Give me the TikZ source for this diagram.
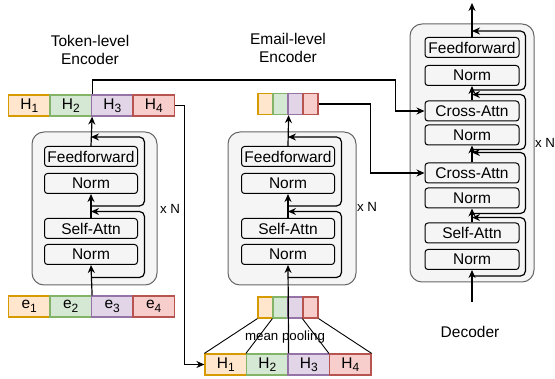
\documentclass[tikz,border=0pt]{standalone}
\usepackage{fontspec}
\setmainfont{Liberation Sans}
\usetikzlibrary{arrows.meta}

\definecolor{orfill}{HTML}{FFE6CC}\definecolor{ordraw}{HTML}{D79B00}
\definecolor{grfill}{HTML}{D5E8D4}\definecolor{grdraw}{HTML}{82B366}
\definecolor{pufill}{HTML}{E1D5E7}\definecolor{pudraw}{HTML}{9673A6}
\definecolor{rdfill}{HTML}{F8CECC}\definecolor{rddraw}{HTML}{B85450}
\definecolor{stackfill}{HTML}{F5F5F5}\definecolor{stackdraw}{HTML}{666666}

\newcommand{\lowidx}[1]{\raisebox{-3.5pt}{\fontsize{12}{12}\selectfont #1}}

\begin{document}
\begin{tikzpicture}[
    x=1pt,y=-1pt,
    big/.style={font=\fontsize{15.5}{18}\selectfont},
    small/.style={font=\fontsize{13.3}{16}\selectfont},
    stack/.style={draw=stackdraw,fill=stackfill,line width=1pt,rounded corners=12pt},
    block/.style={draw,line width=1pt,rounded corners=3pt,minimum width=93,minimum height=20,inner sep=0pt,big},
    cell/.style={draw=#1draw,fill=#1fill,line width=1.2pt,minimum height=21,inner sep=0pt,big},
    wide/.style={minimum width=41.5},
    thin/.style={minimum width=15},
    conn/.style={-{Stealth[length=8pt,width=7pt]},line width=1.2pt},
    res/.style={conn,rounded corners=5pt},
    pool/.style={line width=0.9pt}
  ]
  \useasboundingbox (0,0) rectangle (555,379);

  % token-level encoder
  \node[stack,minimum width=125,minimum height=153] (tstack) at (94.5,208.5) {};
  \node[block] (tff) at (91,156.5) {Feedforward};
  \node[block] (tn1) at (91,183.5) {Norm};
  \node[block] (tsa) at (91,228.5) {Self-Attn};
  \node[block] (tn2) at (91,254.5) {Norm};
  \node[cell=or,wide] (th1) at (29.25,105.5) {H\lowidx{1}};
  \node[cell=gr,wide] (th2) at (70.75,105.5) {H\lowidx{2}};
  \node[cell=pu,wide] (th3) at (112.25,105.5) {H\lowidx{3}};
  \node[cell=rd,wide] (th4) at (153.75,105.5) {H\lowidx{4}};
  \node[cell=or,wide] (te1) at (29.25,306.5) {e\lowidx{1}};
  \node[cell=gr,wide] (te2) at (70.75,306.5) {e\lowidx{2}};
  \node[cell=pu,wide] (te3) at (112.25,306.5) {e\lowidx{3}};
  \node[cell=rd,wide] (te4) at (153.75,306.5) {e\lowidx{4}};
  \node[big,align=center] (ttitle) at (90,50) {Token-level\\Encoder};
  \node[small] (tnum) at (170,209) {x N};

  % email-level encoder
  \node[stack,minimum width=128,minimum height=153] (estack) at (292,208.5) {};
  \node[block] (eff) at (288,156.5) {Feedforward};
  \node[block] (en1) at (288,183.5) {Norm};
  \node[block] (esa) at (288,228.5) {Self-Attn};
  \node[block] (en2) at (288,254.5) {Norm};
  \node[cell=or,thin] (ev1) at (265.5,104) {};
  \node[cell=gr,thin] (ev2) at (280.5,104) {};
  \node[cell=pu,thin] (ev3) at (295.5,104) {};
  \node[cell=rd,thin] (ev4) at (310.5,104) {};
  \node[cell=or,thin] (bv1) at (265.5,307.5) {};
  \node[cell=gr,thin] (bv2) at (280.5,307.5) {};
  \node[cell=pu,thin] (bv3) at (295.5,307.5) {};
  \node[cell=rd,thin] (bv4) at (310.5,307.5) {};
  \node[cell=or,wide] (bh1) at (225.75,364.5) {H\lowidx{1}};
  \node[cell=gr,wide] (bh2) at (267.25,364.5) {H\lowidx{2}};
  \node[cell=pu,wide] (bh3) at (308.75,364.5) {H\lowidx{3}};
  \node[cell=rd,wide] (bh4) at (350.25,364.5) {H\lowidx{4}};
  \node[big,align=center] (etitle) at (288,48) {Email-level\\Encoder};
  \node[small] (enum) at (367,207) {x N};
  \node[small] (pooling) at (285,337) {mean pooling};

  % decoder
  \node[stack,minimum width=124,minimum height=258] (dstack) at (472,153) {};
  \node[block,minimum width=94] (dff) at (472,47.5) {Feedforward};
  \node[block,minimum width=94] (dn1) at (472,75.5) {Norm};
  \node[block,minimum width=94] (dca1) at (472,111) {Cross-Attn};
  \node[block,minimum width=94] (dn2) at (472,135) {Norm};
  \node[block,minimum width=94] (dca2) at (472,173) {Cross-Attn};
  \node[block,minimum width=94] (dn3) at (472,198) {Norm};
  \node[block,minimum width=94] (dsa) at (472,233) {Self-Attn};
  \node[block,minimum width=94] (dn4) at (472,259.5) {Norm};
  \node[big] (dtitle) at (470,332) {Decoder};
  \node[small] (dnum) at (545,143) {x N};
  \coordinate (din) at (472,302);
  \coordinate (dout) at (472,3);

  % main paths
  \draw[conn] (te2.north east) -- (tn2.south);
  \draw[conn] (tsa.north) -- (tn1.south);
  \draw[conn] (tff.north) -- (th2.south east);
  \draw[conn] (bh2.north east) -- (en2.south);
  \draw[conn] (esa.north) -- (en1.south);
  \draw[conn] (eff.north) -- (ev2.south east);
  \draw[conn] (din) -- (dn4.south);
  \draw[conn] (dsa.north) -- (dn3.south);
  \draw[conn] (dca2.north) -- (dn2.south);
  \draw[conn] (dca1.north) -- (dn1.south);
  \draw[conn] (dff.north) -- (dout);

  % residual loops
  \draw[res] ([yshift=-12.5]tn2.south) -| ([xshift=6.5,yshift=6.5]tsa.north east) -- ([yshift=6.5]tsa.north);
  \draw[res] ([yshift=-12]tn1.south) -| ([xshift=6.5,yshift=9]tff.north east) -- ([yshift=9]tff.north);
  \draw[res] ([yshift=-12.5]en2.south) -| ([xshift=6.5,yshift=6.5]esa.north east) -- ([yshift=6.5]esa.north);
  \draw[res] ([yshift=-12]en1.south) -| ([xshift=6.5,yshift=9]eff.north east) -- ([yshift=9]eff.north);
  \draw[res] ([yshift=-6]dn4.south) -| ([xshift=6,yshift=5]dsa.north east) -- ([yshift=5]dsa.north);
  \draw[res] ([yshift=-5]dn3.south) -| ([xshift=6,yshift=10]dca2.north east) -- ([yshift=10]dca2.north);
  \draw[res] ([yshift=-4]dn2.south) -| ([xshift=6,yshift=6]dca1.north east) -- ([yshift=6]dca1.north);
  \draw[res] ([yshift=-4]dn1.south) -| ([xshift=6,yshift=6]dff.north east) -- ([yshift=6]dff.north);

  % mean pooling
  \draw[pool] (bv1.south west) -- (bh1.north west);
  \draw[pool] (bv2.south west) -- (bh2.north west);
  \draw[pool] (bv4.south west) -- (bh4.north west);
  \draw[pool] (bv4.south east) -- (bh4.north east);

  % cross connections
  \draw[conn] (th2.north east) |- ([xshift=-29,yshift=31]dca1.west) |- (dca1.west);
  \draw[conn] (ev4.east) -| ([xshift=-54]dca2.west) -- (dca2.west);
  \draw[conn] (th4.east) -| ([xshift=-20]bh1.west) -- (bh1.west);
\end{tikzpicture}
\end{document}
